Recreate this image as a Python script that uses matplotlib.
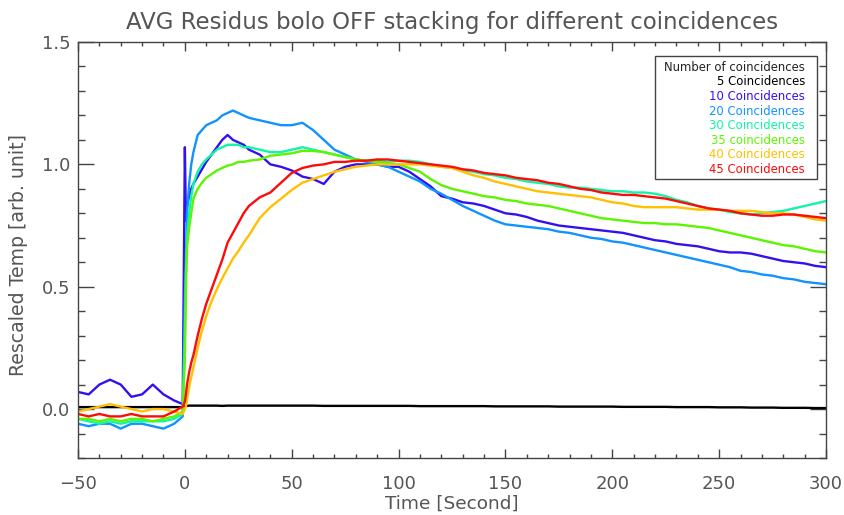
import matplotlib
matplotlib.use("Agg")
import matplotlib.pyplot as plt
from matplotlib.ticker import MultipleLocator
from matplotlib.patches import Rectangle

# ---- sampling grid (seconds) ----
t_pre = [-50, -45, -40, -35, -30, -25, -20, -15, -10, -5, -1]
t_jump = [0, 0.5, 1, 2, 3, 4, 6, 8, 10]
t_mid = [12.5, 15, 17.5, 20, 22.5, 25, 27.5, 30]
t_late = list(range(35, 301, 5))
time = t_pre + t_jump + t_mid + t_late

# ---- series values ----
c5 = ([0.008] * 11 +
      [0.012, 0.013, 0.013, 0.014, 0.014, 0.014, 0.014, 0.014, 0.014] +
      [0.014, 0.014, 0.013, 0.014, 0.014, 0.014, 0.014, 0.014] +
      [0.014, 0.014, 0.014, 0.014, 0.014, 0.014, 0.013, 0.013, 0.013, 0.013,
       0.013, 0.013, 0.013, 0.013, 0.013, 0.012, 0.012, 0.012, 0.012, 0.012,
       0.012, 0.012, 0.011, 0.011, 0.011, 0.011, 0.011, 0.011, 0.010, 0.010,
       0.010, 0.010, 0.010, 0.010, 0.009, 0.009, 0.009, 0.009, 0.009, 0.008,
       0.008, 0.008, 0.008, 0.007, 0.007, 0.007, 0.006, 0.006, 0.006, 0.005,
       0.005, 0.005, 0.004, 0.004])

c10 = ([0.07, 0.06, 0.10, 0.12, 0.10, 0.05, 0.06, 0.10, 0.06, 0.035, 0.02] +
       [1.07, 0.77, 0.83, 0.87, 0.90, 0.92, 0.95, 0.98, 1.01] +
       [1.04, 1.07, 1.10, 1.12, 1.10, 1.09, 1.08, 1.06] +
       [1.04, 1.00, 0.99, 0.975, 0.95, 0.94, 0.92, 0.97, 0.99, 1.00,
        1.00, 1.00, 0.99, 0.99, 0.97, 0.94, 0.91, 0.87, 0.86, 0.845,
        0.84, 0.83, 0.815, 0.80, 0.795, 0.785, 0.77, 0.76, 0.75, 0.745,
        0.74, 0.735, 0.73, 0.725, 0.72, 0.71, 0.70, 0.69, 0.685, 0.675,
        0.67, 0.665, 0.655, 0.645, 0.64, 0.64, 0.635, 0.625, 0.615, 0.605,
        0.60, 0.595, 0.585, 0.58])

c20 = ([-0.06, -0.07, -0.06, -0.06, -0.08, -0.06, -0.06, -0.07, -0.08, -0.06, -0.03] +
       [0.45, 0.62, 0.80, 0.92, 1.00, 1.05, 1.12, 1.14, 1.16] +
       [1.17, 1.18, 1.20, 1.21, 1.22, 1.21, 1.20, 1.19] +
       [1.18, 1.17, 1.16, 1.16, 1.17, 1.14, 1.10, 1.06, 1.04, 1.02,
        1.01, 1.00, 0.99, 0.97, 0.95, 0.93, 0.90, 0.88, 0.855, 0.83,
        0.81, 0.79, 0.77, 0.755, 0.75, 0.745, 0.74, 0.735, 0.725, 0.72,
        0.71, 0.70, 0.695, 0.685, 0.68, 0.67, 0.66, 0.65, 0.64, 0.63,
        0.62, 0.61, 0.60, 0.59, 0.58, 0.565, 0.56, 0.55, 0.545, 0.535,
        0.53, 0.52, 0.515, 0.51])

c30 = ([-0.04, -0.05, -0.06, -0.05, -0.06, -0.05, -0.05, -0.05, -0.05, -0.04, -0.02] +
       [0.30, 0.55, 0.70, 0.80, 0.87, 0.92, 0.97, 1.00, 1.02] +
       [1.04, 1.06, 1.07, 1.08, 1.08, 1.08, 1.07, 1.07] +
       [1.06, 1.05, 1.05, 1.06, 1.07, 1.06, 1.05, 1.04, 1.03, 1.02,
        1.015, 1.015, 1.01, 1.015, 1.015, 1.01, 1.00, 0.99, 0.985, 0.975,
        0.97, 0.96, 0.955, 0.945, 0.94, 0.93, 0.925, 0.92, 0.91, 0.905,
        0.905, 0.90, 0.895, 0.89, 0.89, 0.885, 0.885, 0.88, 0.87, 0.855,
        0.845, 0.83, 0.82, 0.815, 0.805, 0.80, 0.795, 0.80, 0.805, 0.81,
        0.82, 0.83, 0.84, 0.85])

c35 = ([-0.04, -0.04, -0.05, -0.04, -0.05, -0.04, -0.04, -0.05, -0.04, -0.03, -0.01] +
       [0.20, 0.50, 0.66, 0.74, 0.80, 0.86, 0.90, 0.925, 0.945] +
       [0.96, 0.975, 0.985, 0.995, 1.00, 1.01, 1.01, 1.015] +
       [1.02, 1.035, 1.04, 1.045, 1.055, 1.055, 1.05, 1.04, 1.03, 1.02,
        1.015, 1.01, 1.005, 1.00, 0.985, 0.97, 0.94, 0.915, 0.90, 0.89,
        0.88, 0.87, 0.865, 0.855, 0.85, 0.84, 0.835, 0.83, 0.82, 0.81,
        0.80, 0.79, 0.78, 0.775, 0.77, 0.765, 0.76, 0.76, 0.755, 0.755,
        0.75, 0.745, 0.74, 0.73, 0.72, 0.71, 0.70, 0.69, 0.68, 0.67,
        0.665, 0.655, 0.645, 0.64])

c40 = ([-0.01, 0.00, 0.01, 0.02, 0.01, 0.00, -0.01, 0.00, 0.00, -0.01, -0.02] +
       [0.00, 0.01, 0.04, 0.09, 0.13, 0.17, 0.25, 0.32, 0.38] +
       [0.44, 0.49, 0.535, 0.575, 0.615, 0.645, 0.68, 0.71] +
       [0.78, 0.825, 0.86, 0.895, 0.925, 0.94, 0.955, 0.97, 0.98, 0.99,
        0.995, 1.00, 1.00, 1.00, 1.00, 1.00, 0.995, 0.99, 0.985, 0.97,
        0.955, 0.945, 0.93, 0.92, 0.91, 0.90, 0.89, 0.885, 0.88, 0.875,
        0.87, 0.865, 0.855, 0.845, 0.84, 0.83, 0.825, 0.825, 0.825, 0.825,
        0.82, 0.815, 0.815, 0.815, 0.81, 0.81, 0.81, 0.805, 0.80, 0.80,
        0.795, 0.785, 0.775, 0.77])

c45 = ([-0.02, -0.03, -0.02, -0.03, -0.03, -0.02, -0.03, -0.03, -0.03, -0.01, 0.01] +
       [0.03, 0.06, 0.10, 0.15, 0.19, 0.22, 0.30, 0.37, 0.43] +
       [0.49, 0.55, 0.61, 0.68, 0.72, 0.76, 0.80, 0.83] +
       [0.865, 0.885, 0.925, 0.965, 0.985, 0.995, 1.00, 1.01, 1.01, 1.015,
        1.015, 1.02, 1.02, 1.015, 1.01, 1.005, 1.00, 0.995, 0.99, 0.98,
        0.975, 0.965, 0.96, 0.955, 0.945, 0.94, 0.935, 0.925, 0.92, 0.91,
        0.90, 0.895, 0.885, 0.88, 0.875, 0.875, 0.87, 0.865, 0.86, 0.85,
        0.84, 0.83, 0.82, 0.815, 0.81, 0.80, 0.795, 0.79, 0.79, 0.795,
        0.795, 0.79, 0.785, 0.78])

series = [c5, c10, c20, c30, c35, c40, c45]
labels = ["5 Coincidences", "10 Coincidences", "20 Coincidences", "30 Coincidences",
          "35 coincidences", "40 Coincidences", "45 Coincidences"]
colors = ["#000000", "#3311ee", "#1193ff", "#11f5a5", "#5cf500", "#ffc000", "#ff0a0a"]

x_ticks = [-50, 0, 50, 100, 150, 200, 250, 300]
y_ticks = [0.0, 0.5, 1.0, 1.5]

TXT = "#555555"
AX = "#444444"

fig = plt.figure(figsize=(8.45, 5.15), dpi=100)
ax = fig.add_axes([78 / 845, 1 - 458 / 515, (826 - 78) / 845, (458 - 42) / 515])

for s, c in zip(series, colors):
    n = min(len(time), len(s))
    ax.plot(time[:n], s[:n], color=c, lw=1.7, solid_joinstyle="round")

ax.set_xlim(-50, 300)
ax.set_ylim(-0.2, 1.5)
ax.set_xticks(x_ticks)
ax.set_xticklabels(["\u221250"] + [str(v) for v in x_ticks[1:]])
ax.set_yticks(y_ticks)
ax.set_yticklabels([f"{v:.1f}" for v in y_ticks])
ax.xaxis.set_minor_locator(MultipleLocator(10))
ax.yaxis.set_minor_locator(MultipleLocator(0.1))
ax.tick_params(axis="both", which="both", direction="in", top=True, right=True,
               colors=AX, labelcolor=TXT, labelsize=13, width=1)
ax.tick_params(axis="x", which="major", length=6.2, pad=12)
ax.tick_params(axis="x", which="minor", length=3.2)
ax.tick_params(axis="y", which="major", length=11.3, pad=5.5)
ax.tick_params(axis="y", which="minor", length=5.2)
for sp in ax.spines.values():
    sp.set_color(AX)
    sp.set_linewidth(1)

fig.text(452 / 845, 1 - 22.5 / 515, "AVG Residus bolo OFF stacking for different coincidences",
         ha="center", va="center", fontsize=16.5, color=TXT)
fig.text(452 / 845, 1 - 504 / 515, "Time [Second]", ha="center", va="center",
         fontsize=13.3, color=TXT)
fig.text(19 / 845, 1 - 255 / 515, "Rescaled Temp [arb. unit]", ha="center", va="center",
         rotation=90, fontsize=13.6, color=TXT)

# legend box drawn in figure pixels
bx0, bx1, by0, by1 = 655, 817, 56, 179
fig.patches.append(Rectangle((bx0 / 845, 1 - by1 / 515), (bx1 - bx0) / 845, (by1 - by0) / 515,
                             transform=fig.transFigure, facecolor="white",
                             edgecolor=AX, lw=1, zorder=5))
rows = ["Number of coincidences"] + labels
rcols = ["#222222"] + colors
for i, (r, c) in enumerate(zip(rows, rcols)):
    fig.text(805 / 845, 1 - (67.3 + i * 14.6) / 515, r, ha="right", va="center",
             fontsize=8.4, color=c, zorder=6)

fig.savefig("out.png", dpi=100, facecolor="white")
